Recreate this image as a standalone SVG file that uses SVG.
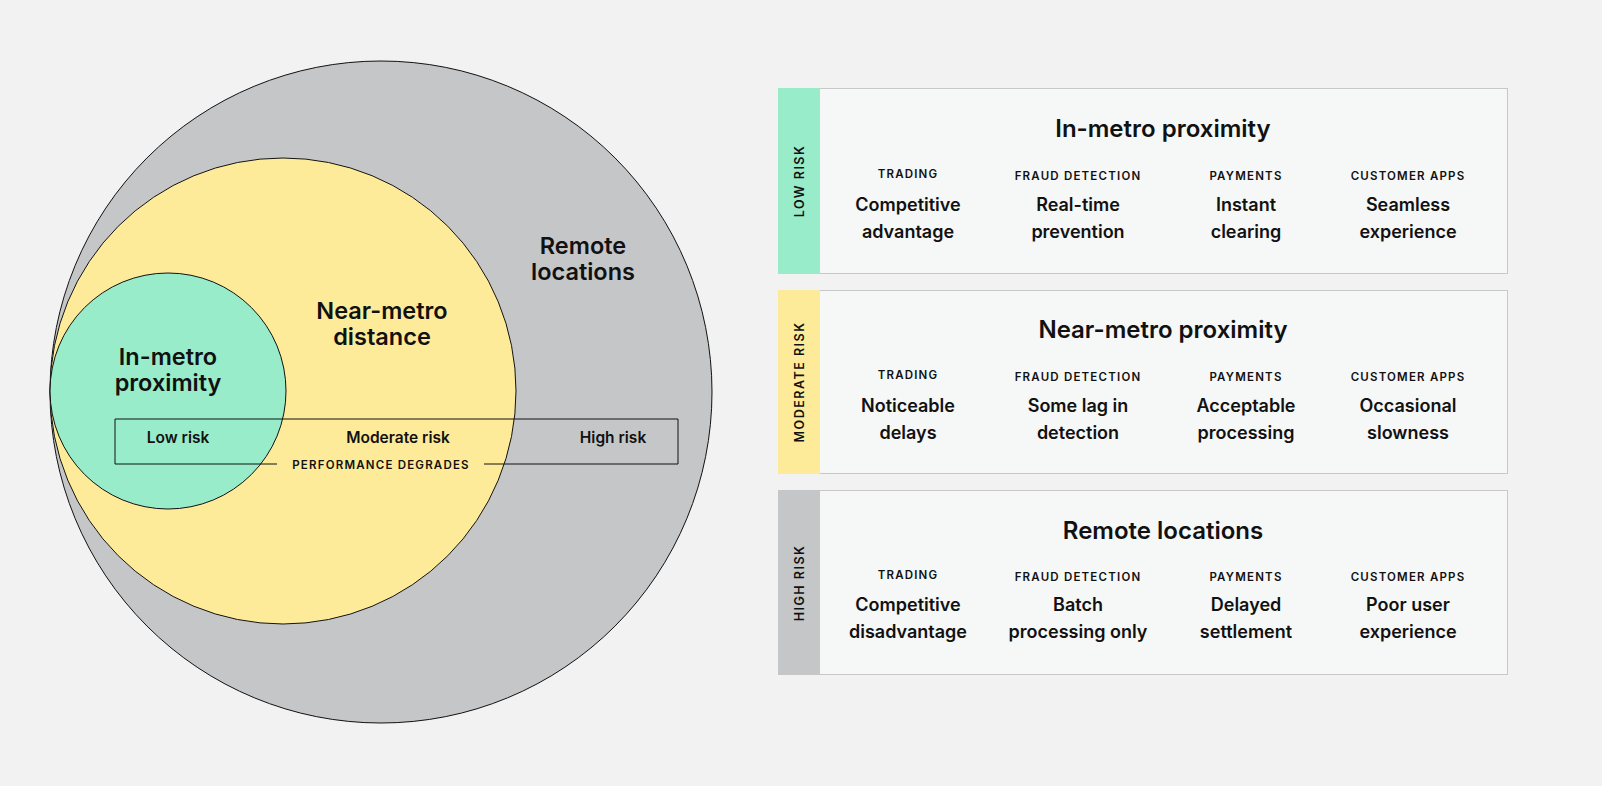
<svg xmlns="http://www.w3.org/2000/svg" width="1602" height="786" viewBox="0 0 1602 786">
<style>
text{font-family:Inter,"Liberation Sans",sans-serif;fill:#111;text-anchor:middle}
.big{font-size:23.5px;font-weight:600}
.risk{font-size:15.5px;font-weight:600}
.cap{font-size:11.5px;font-weight:600;letter-spacing:1.2px}
.title{font-size:24px;font-weight:600}
.val{font-size:18px;font-weight:600}
.side{font-size:12.5px;font-weight:600;letter-spacing:1.5px}
.panel{fill:#f6f7f7;stroke:#c8c8c8;stroke-width:1}
</style>
<rect width="1602" height="786" fill="#f2f2f2"/>
<g id="remote"><circle cx="381" cy="392" r="331" fill="#c5c6c8" stroke="#111" stroke-width="1"/>
<text class="big" x="583" y="254">Remote</text><text class="big" x="583" y="280">locations</text></g>
<g id="near"><circle cx="283" cy="391" r="233" fill="#feeb9a" stroke="#111" stroke-width="1"/>
<text class="big" x="382" y="319">Near-metro</text><text class="big" x="382" y="345">distance</text></g>
<g id="in"><circle cx="168" cy="391" r="118" fill="#98ecc9" stroke="#111" stroke-width="1"/>
<text class="big" x="168" y="365">In-metro</text><text class="big" x="168" y="391">proximity</text></g>
<g id="scale">
<path d="M277 464H115V419H678V464H484" fill="none" stroke="#111" stroke-width="1"/>
<text class="risk" x="178" y="443">Low risk</text>
<text class="risk" x="398" y="443">Moderate risk</text>
<text class="risk" x="613" y="443">High risk</text>
<text class="cap" x="381" y="469">PERFORMANCE DEGRADES</text></g>
<g id="panel-low"><rect class="panel" x="778.5" y="88.5" width="729" height="185"/><rect x="778" y="88" width="42" height="186" fill="#98ecc9"/>
<text class="side" transform="translate(804 181) rotate(-90)">LOW RISK</text>
<text class="title" x="1163" y="137">In-metro proximity</text>
<text class="cap" x="908" y="178">TRADING</text><text class="cap" x="1078" y="180">FRAUD DETECTION</text><text class="cap" x="1246" y="180">PAYMENTS</text><text class="cap" x="1408" y="180">CUSTOMER APPS</text>
<text class="val" x="908" y="211">Competitive</text><text class="val" x="908" y="238">advantage</text>
<text class="val" x="1078" y="211">Real-time</text><text class="val" x="1078" y="238">prevention</text>
<text class="val" x="1246" y="211">Instant</text><text class="val" x="1246" y="238">clearing</text>
<text class="val" x="1408" y="211">Seamless</text><text class="val" x="1408" y="238">experience</text></g>
<g id="panel-moderate"><rect class="panel" x="778.5" y="290.5" width="729" height="183"/><rect x="778" y="290" width="42" height="184" fill="#feeb9a"/>
<text class="side" transform="translate(804 382) rotate(-90)">MODERATE  RISK</text>
<text class="title" x="1163" y="338">Near-metro proximity</text>
<text class="cap" x="908" y="379">TRADING</text><text class="cap" x="1078" y="381">FRAUD DETECTION</text><text class="cap" x="1246" y="381">PAYMENTS</text><text class="cap" x="1408" y="381">CUSTOMER APPS</text>
<text class="val" x="908" y="412">Noticeable</text><text class="val" x="908" y="439">delays</text>
<text class="val" x="1078" y="412">Some lag in</text><text class="val" x="1078" y="439">detection</text>
<text class="val" x="1246" y="412">Acceptable</text><text class="val" x="1246" y="439">processing</text>
<text class="val" x="1408" y="412">Occasional</text><text class="val" x="1408" y="439">slowness</text></g>
<g id="panel-high"><rect class="panel" x="778.5" y="490.5" width="729" height="184"/><rect x="778" y="490" width="42" height="185" fill="#c5c6c8"/>
<text class="side" transform="translate(804 583) rotate(-90)">HIGH  RISK</text>
<text class="title" x="1163" y="539">Remote locations</text>
<text class="cap" x="908" y="579">TRADING</text><text class="cap" x="1078" y="581">FRAUD DETECTION</text><text class="cap" x="1246" y="581">PAYMENTS</text><text class="cap" x="1408" y="581">CUSTOMER APPS</text>
<text class="val" x="908" y="611">Competitive</text><text class="val" x="908" y="638">disadvantage</text>
<text class="val" x="1078" y="611">Batch</text><text class="val" x="1078" y="638">processing only</text>
<text class="val" x="1246" y="611">Delayed</text><text class="val" x="1246" y="638">settlement</text>
<text class="val" x="1408" y="611">Poor user</text><text class="val" x="1408" y="638">experience</text></g>
</svg>
